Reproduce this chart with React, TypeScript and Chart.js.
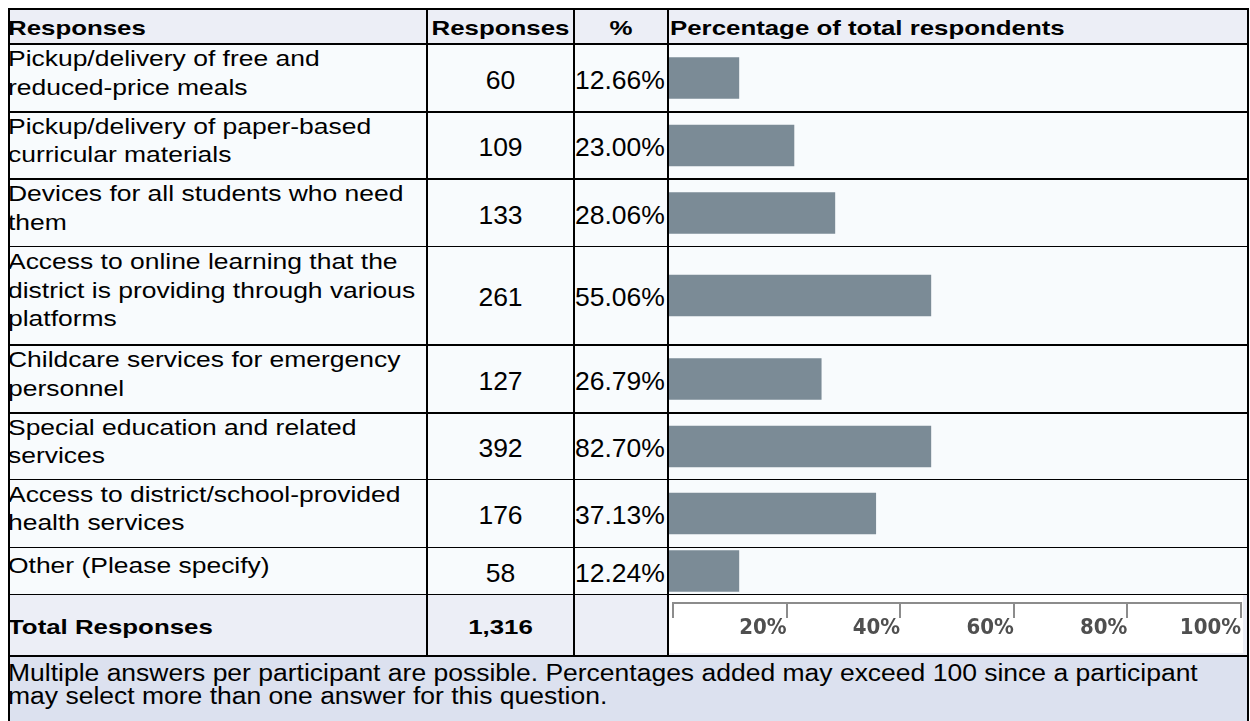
import React, { useEffect, useRef } from "react";
import { Chart, registerables } from "chart.js";

Chart.register(...registerables);

// ---------------- data ----------------
const categories: string[][] = [
  ["Pickup/delivery of free and", "reduced-price meals"],
  ["Pickup/delivery of paper-based", "curricular materials"],
  ["Devices for all students who need", "them"],
  ["Access to online learning that the", "district is providing through various", "platforms"],
  ["Childcare services for emergency", "personnel"],
  ["Special education and related", "services"],
  ["Access to district/school-provided", "health services"],
  ["Other (Please specify)"],
];
const responses = [60, 109, 133, 261, 127, 392, 176, 58];
const percents = [12.66, 23.0, 28.06, 55.06, 26.79, 82.7, 37.13, 12.24];
// bar lengths as drawn in the picture (percentage scale of the bar column)
const barLengths = [12.3, 22.0, 29.2, 46.1, 26.8, 46.1, 36.4, 12.3];
const totalResponses = 1316;
const headers = ["Responses", "Responses", "%", "Percentage of total respondents"];
const totalLabel = "Total Responses";
const axisTicks = [0, 20, 40, 60, 80, 100];
const axisTickLabels = ["", "20%", "40%", "60%", "80%", "100%"];
const footnote = [
  "Multiple answers per participant are possible. Percentages added may exceed 100 since a participant",
  "may select more than one answer for this question.",
];

// ---------------- layout / style ----------------
const FONT = "'Liberation Sans', Arial, Helvetica, sans-serif";
const BAR_COLOR = "#7b8b96";
const HEADER_BG = "#eceef6";
const BODY_BG = "#f8fbfd";
const TOTAL_BG = "#eceef6";
const FOOT_BG = "#dce1ef";
const OX = 8;
const OY = 8;
const SX = 1.23;

const rowBoxes = [
  { top: 45, h: 66 },
  { top: 113, h: 65 },
  { top: 180, h: 66 },
  { top: 247, h: 97 },
  { top: 346, h: 66 },
  { top: 414, h: 65 },
  { top: 480, h: 67 },
  { top: 548, h: 46 },
];
const hLines = [
  { y: 8, t: 2 },
  { y: 43, t: 2 },
  { y: 111, t: 2 },
  { y: 178, t: 2 },
  { y: 246, t: 1 },
  { y: 344, t: 2 },
  { y: 412, t: 2 },
  { y: 479, t: 1 },
  { y: 547, t: 1 },
  { y: 594, t: 1 },
  { y: 655, t: 2 },
];
const vLines = [
  { x: 8, y2: 721 },
  { x: 426, y2: 657 },
  { x: 573, y2: 657 },
  { x: 667, y2: 657 },
  { x: 1247, y2: 721 },
];

function abs(x: number, y: number, w: number, h: number): React.CSSProperties {
  return { position: "absolute", left: x - OX, top: y - OY, width: w, height: h };
}

function BarCell({ value, top, h }: { value: number; top: number; h: number }) {
  const ref = useRef<HTMLCanvasElement>(null);
  const W = 568;
  useEffect(() => {
    const chart = new Chart(ref.current!, {
      type: "bar",
      data: {
        labels: [""],
        datasets: [
          {
            data: [value],
            backgroundColor: BAR_COLOR,
            borderWidth: 0,
            barThickness: 41,
          },
        ],
      },
      options: {
        indexAxis: "y",
        animation: false,
        responsive: false,
        maintainAspectRatio: false,
        layout: { padding: 0 },
        plugins: { legend: { display: false }, tooltip: { enabled: false } },
        scales: {
          x: { display: false, min: 0, max: 100 },
          y: { display: false },
        },
      },
    });
    return () => chart.destroy();
  }, [value, h]);
  return (
    <div style={abs(669, top, W, h)}>
      <canvas ref={ref} width={W} height={h} style={{ display: "block" }} />
    </div>
  );
}

function AxisCell() {
  const ref = useRef<HTMLCanvasElement>(null);
  const W = 576;
  const H = 74;
  useEffect(() => {
    const chart = new Chart(ref.current!, {
      type: "scatter",
      data: { datasets: [] },
      options: {
        animation: false,
        responsive: false,
        maintainAspectRatio: false,
        layout: { padding: { left: 4, right: 4, top: 0, bottom: 0 } },
        plugins: { legend: { display: false }, tooltip: { enabled: false } },
        scales: {
          x: {
            type: "linear",
            position: "bottom",
            min: 0,
            max: 100,
            afterBuildTicks: (scale: any) => {
              scale.ticks = axisTicks.map((v) => ({ value: v }));
            },
            ticks: {
              autoSkip: false,
              maxRotation: 0,
              minRotation: 0,
              align: "end",
              padding: 0,
              color: "#4f4f4f",
              font: {
                family: "'Liberation Sans Narrow', 'DejaVu Sans Condensed', 'Liberation Sans', sans-serif",
                size: 22,
                weight: "bold",
                lineHeight: "21px",
              },
              callback: (_v: any, i: number) => axisTickLabels[i],
            },
            grid: {
              drawOnChartArea: false,
              drawTicks: true,
              tickLength: 15,
              color: "#8c8c8c",
              lineWidth: 2,
            },
            border: { display: true, color: "#8c8c8c", width: 2 },
          },
          y: { display: false },
        },
      },
    });
    return () => chart.destroy();
  }, []);
  return (
    <div style={abs(669, 565, W, H)}>
      <canvas ref={ref} width={W} height={H} style={{ display: "block" }} />
    </div>
  );
}

const scaledLine = (origin: string): React.CSSProperties => ({
  whiteSpace: "nowrap",
  transform: `scaleX(${SX})`,
  transformOrigin: origin,
});

export default function App() {
  const fmtPct = (v: number) => v.toFixed(2) + "%";
  const fmtInt = (v: number) => v.toLocaleString("en-US");
  return (
    <div
      style={{
        position: "absolute",
        left: OX,
        top: OY,
        width: 1241,
        height: 713,
        overflow: "hidden",
        fontFamily: FONT,
        color: "#000",
      }}
    >
      {/* backgrounds */}
      <div style={{ ...abs(8, 8, 1241, 37), background: HEADER_BG }} />
      <div style={{ ...abs(8, 45, 1241, 549), background: BODY_BG }} />
      <div style={{ ...abs(8, 594, 1241, 63), background: TOTAL_BG }} />
      <div style={{ ...abs(8, 657, 1241, 64), background: FOOT_BG }} />
      <div style={{ ...abs(669, 595, 574, 58), background: "#ffffff" }} />

      {/* header */}
      {headers.map((t, i) => {
        const cols = [
          { x: 8, w: 418, align: "left" },
          { x: 428, w: 145, align: "center" },
          { x: 575, w: 92, align: "center" },
          { x: 670, w: 577, align: "left" },
        ][i];
        return (
          <div
            key={"h" + i}
            style={{
              ...abs(cols.x, 10, cols.w, 33),
              display: "flex",
              flexDirection: "column",
              justifyContent: "center",
              paddingTop: 2,
              boxSizing: "border-box",
              fontWeight: "bold",
              fontSize: 21,
              lineHeight: "24px",
              textAlign: cols.align as any,
            }}
          >
            <div style={scaledLine(cols.align === "left" ? "left center" : "center center")}>{t}</div>
          </div>
        );
      })}

      {/* body rows */}
      {categories.map((lines, i) => {
        const r = rowBoxes[i];
        return (
          <React.Fragment key={"r" + i}>
            <div
              style={{
                ...abs(8, r.top, 418, r.h),
                display: "flex",
                flexDirection: "column",
                justifyContent: "center",
                paddingBottom: 9,
                boxSizing: "border-box",
                fontSize: 21.5,
                lineHeight: "28.5px",
              }}
            >
              {lines.map((ln, j) => (
                <div key={j} style={scaledLine("left center")}>
                  {ln}
                </div>
              ))}
            </div>
            <div
              style={{
                ...abs(428, r.top, 145, r.h),
                display: "flex",
                alignItems: "center",
                justifyContent: "center",
                paddingTop: 4,
                boxSizing: "border-box",
                fontSize: 26.5,
                whiteSpace: "nowrap",
              }}
            >
              {responses[i]}
            </div>
            <div
              style={{
                ...abs(575, r.top, 92, r.h),
                display: "flex",
                alignItems: "center",
                paddingTop: 4,
                boxSizing: "border-box",
                fontSize: 26.5,
                whiteSpace: "nowrap",
              }}
            >
              {fmtPct(percents[i])}
            </div>
            <BarCell value={barLengths[i]} top={r.top} h={r.h} />
          </React.Fragment>
        );
      })}

      {/* total row */}
      <div
        style={{
          ...abs(8, 595, 418, 60),
          display: "flex",
          flexDirection: "column",
          justifyContent: "center",
          paddingTop: 4,
          boxSizing: "border-box",
          fontSize: 21,
          fontWeight: "bold",
          lineHeight: "24px",
        }}
      >
        <div style={scaledLine("left center")}>{totalLabel}</div>
      </div>
      <div
        style={{
          ...abs(428, 595, 145, 60),
          display: "flex",
          flexDirection: "column",
          justifyContent: "center",
          paddingTop: 4,
          boxSizing: "border-box",
          fontSize: 21,
          fontWeight: "bold",
          lineHeight: "24px",
          textAlign: "center",
        }}
      >
        <div style={scaledLine("center center")}>{fmtInt(totalResponses)}</div>
      </div>

      {/* footer */}
      <div
        style={{
          ...abs(8, 657, 1239, 64),
          paddingTop: 5,
          boxSizing: "border-box",
          fontSize: 23.3,
          lineHeight: "23.3px",
        }}
      >
        {footnote.map((ln, j) => (
          <div key={j} style={{ whiteSpace: "nowrap", transform: "scaleX(1.137)", transformOrigin: "left center" }}>
            {ln}
          </div>
        ))}
      </div>

      {/* grid lines */}
      {hLines.map((l, i) => (
        <div key={"hl" + i} style={{ ...abs(8, l.y, 1241, l.t), background: "#000" }} />
      ))}
      {vLines.map((l, i) => (
        <div key={"vl" + i} style={{ ...abs(l.x, 8, 2, l.y2 - 8), background: "#000" }} />
      ))}

      <AxisCell />
    </div>
  );
}
